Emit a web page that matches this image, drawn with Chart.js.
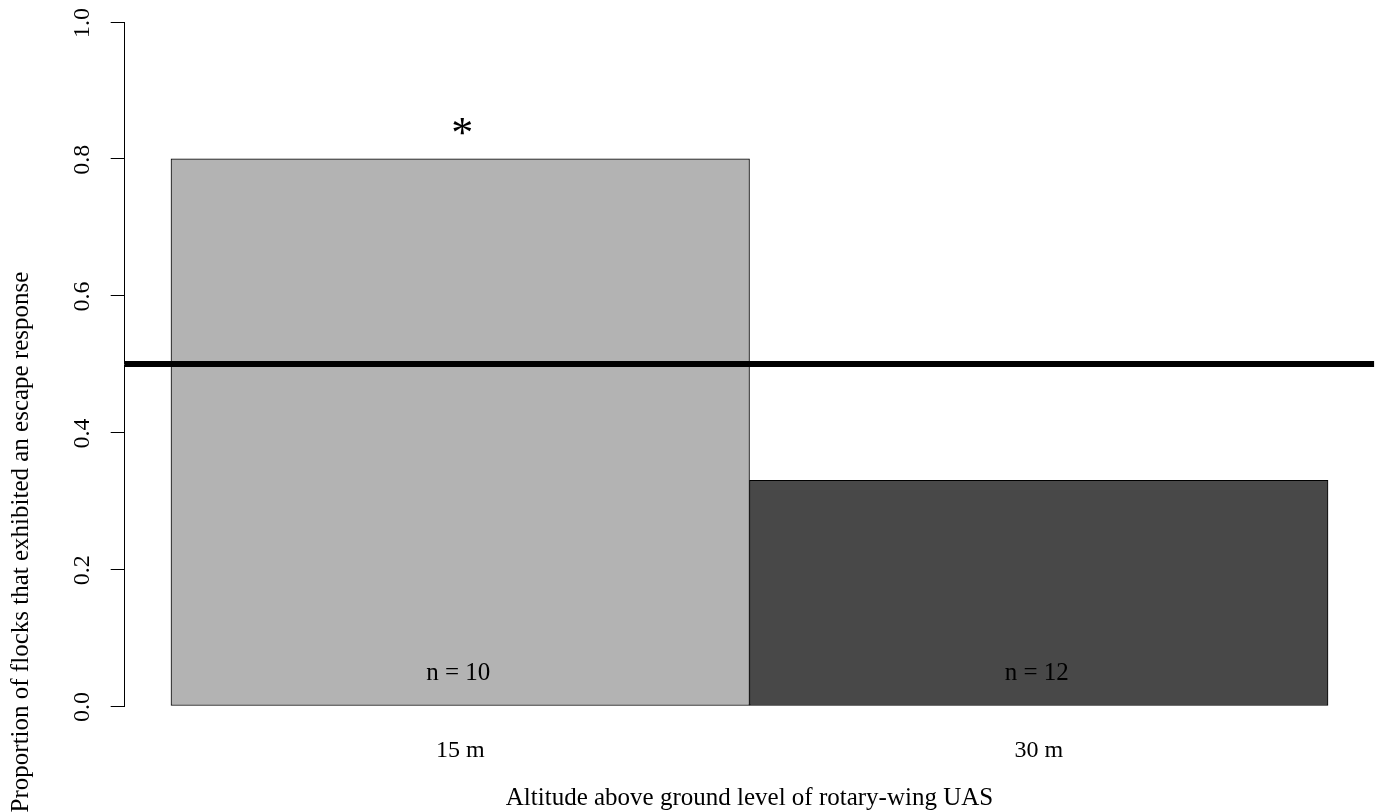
<!DOCTYPE html>
<html>
<head>
<meta charset="utf-8">
<script src="https://cdn.jsdelivr.net/npm/chart.js@4/dist/chart.umd.min.js"></script>
<style>
  html, body { margin: 0; padding: 0; background: #fff; }
  #wrap { width: 1379px; height: 812px; }
</style>
</head>
<body>
<div id="wrap"><canvas id="c" width="1379" height="812"></canvas></div>
<script>
// ---- data ----
const categories = ['15 m', '30 m'];
const proportions = [0.8, 0.33];
const sampleLabels = ['n = 10', 'n = 12'];
const significance = ['*', ''];
const barColors = ['#b3b3b3', '#484848'];
const referenceValue = 0.5;
const yTickValues = [0, 0.2, 0.4, 0.6, 0.8, 1.0];
const yTickLabels = ['0.0', '0.2', '0.4', '0.6', '0.8', '1.0'];
const xTitle = 'Altitude above ground level of rotary-wing UAS';
const yTitle = 'Proportion of flocks that exhibited an escape response';

const FONT = '"Liberation Serif", "Times New Roman", serif';
const xMin = -0.08, xMax = categories.length + 0.08;

const textPlugin = {
  id: 'rtext',
  afterDatasetsDraw(chart) {
    const ctx = chart.ctx;
    const xs = chart.scales.x, ys = chart.scales.y;
    const area = chart.chartArea;
    ctx.save();
    ctx.fillStyle = '#000';
    // y tick labels (rotated)
    ctx.font = '24px ' + FONT;
    yTickValues.forEach((v, i) => {
      const py = ys.getPixelForValue(v);
      ctx.save();
      ctx.translate(area.left - 36, py + 1);
      ctx.rotate(-Math.PI / 2);
      ctx.textAlign = 'center';
      ctx.textBaseline = 'alphabetic';
      ctx.fillText(yTickLabels[i], 0, 0);
      ctx.restore();
    });
    // per-bar texts
    categories.forEach((c, i) => {
      const cx = xs.getPixelForValue(i + 0.5);
      ctx.textAlign = 'center';
      ctx.textBaseline = 'alphabetic';
      ctx.font = '25px ' + FONT;
      ctx.fillText(sampleLabels[i], cx - 2, ys.getPixelForValue(0) - 26);
      ctx.font = '24px ' + FONT;
      ctx.fillText(c, cx, area.bottom + 51);
      if (significance[i]) {
        ctx.font = '44px ' + FONT;
        ctx.textBaseline = 'middle';
        ctx.fillText(significance[i], cx + 2, ys.getPixelForValue(proportions[i]) - 23);
      }
    });
    // x title
    ctx.font = '25px ' + FONT;
    ctx.textAlign = 'center';
    ctx.textBaseline = 'alphabetic';
    ctx.fillText(xTitle, (area.left + area.right) / 2, area.bottom + 99);
    // y title
    ctx.save();
    ctx.translate(28, 542);
    ctx.rotate(-Math.PI / 2);
    ctx.fillText(yTitle, 0, 0);
    ctx.restore();
    ctx.restore();
  }
};

new Chart(document.getElementById('c'), {
  data: {
    datasets: [
      {
        type: 'line',
        data: [{ x: xMin, y: referenceValue }, { x: xMax, y: referenceValue }],
        borderColor: '#000',
        borderWidth: 6,
        pointRadius: 0,
        order: 0
      },
      {
        type: 'bar',
        data: proportions.map((v, i) => ({ x: i + 0.5, y: v })),
        backgroundColor: barColors,
        borderColor: '#000',
        borderWidth: 1,
        borderSkipped: false,
        barPercentage: 1,
        categoryPercentage: 1,
        order: 1
      }
    ]
  },
  options: {
    responsive: false,
    animation: false,
    devicePixelRatio: 1,
    layout: { padding: { top: 22, right: 4.7, bottom: 106, left: 0 } },
    plugins: { legend: { display: false }, tooltip: { enabled: false }, title: { display: false } },
    scales: {
      x: {
        type: 'linear',
        min: xMin,
        max: xMax,
        offset: false,
        display: false,
        afterBuildTicks: (s) => { s.ticks = categories.map((c, i) => ({ value: i + 0.5 })); }
      },
      y: {
        type: 'linear',
        position: 'left',
        min: 0,
        max: 1,
        afterFit: (s) => { s.width = 124.7; },
        afterBuildTicks: (s) => { s.ticks = yTickValues.map(v => ({ value: v })); },
        ticks: { display: false },
        grid: { drawOnChartArea: false, drawTicks: true, tickLength: 14, color: '#000', lineWidth: 1 },
        border: { display: true, color: '#000', width: 1 }
      }
    }
  },
  plugins: [textPlugin]
});
</script>
</body>
</html>
